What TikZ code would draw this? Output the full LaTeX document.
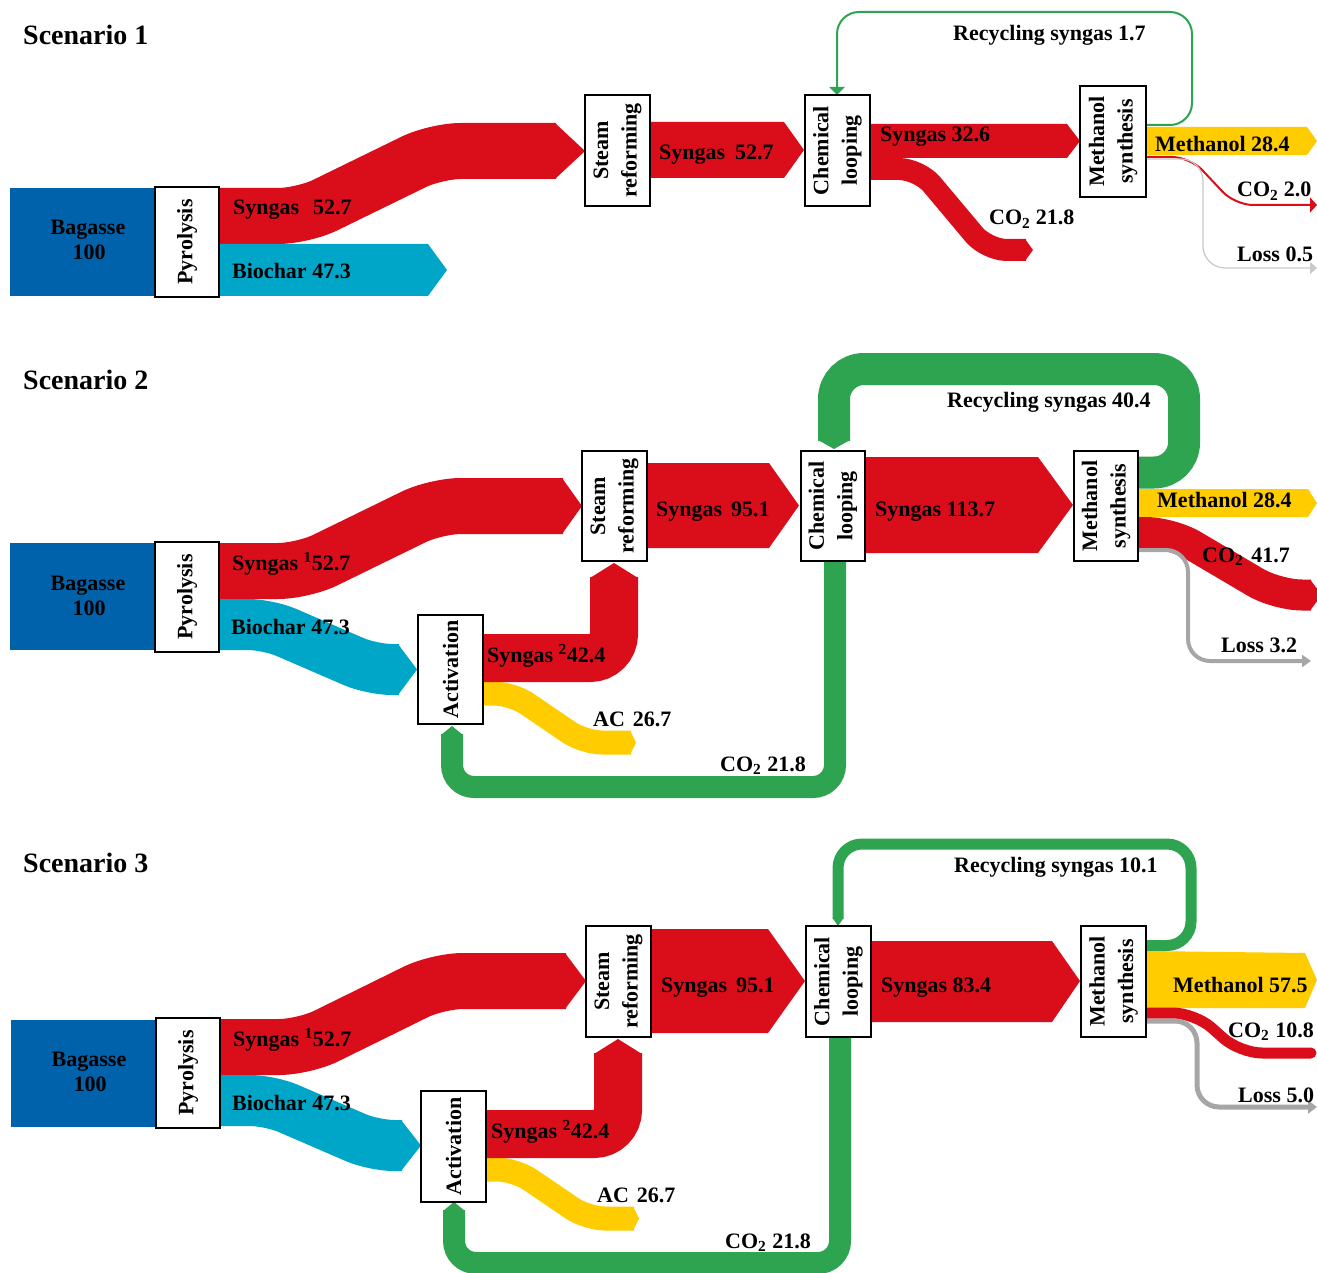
\documentclass[tikz,border=0pt]{standalone}
\usepackage{fontspec}
\setmainfont{Liberation Serif}
\usetikzlibrary{arrows.meta}
\definecolor{cBlue}{RGB}{0,98,170}
\definecolor{cRed}{RGB}{218,14,26}
\definecolor{cCyan}{RGB}{0,166,200}
\definecolor{cYel}{RGB}{255,204,0}
\definecolor{cGreen}{RGB}{46,164,80}
\definecolor{cGray}{RGB}{166,166,166}
\definecolor{cLGray}{RGB}{200,200,200}
\newcommand\lblfont{\fontsize{22}{27}\selectfont\bfseries}
\newcommand\boxfont{\fontsize{22}{28.5}\selectfont\bfseries}
\newcommand\ttlfont{\fontsize{28}{32}\selectfont\bfseries}
\begin{document}
\begin{tikzpicture}[x=1pt,y=-1pt,
  box/.style={draw=black, line width=2pt, fill=white, rotate=90, inner sep=0pt, align=center, font=\boxfont, minimum width=110pt, minimum height=65pt},
  lab/.style={anchor=base west, inner sep=0pt, font=\lblfont},
  ctr/.style={anchor=base, inner sep=0pt, font=\lblfont},
  ttl/.style={anchor=base west, inner sep=0pt, font=\ttlfont},
  band/.style={line cap=butt, rounded corners=#1},
  thin/.style={rounded corners=#1, line cap=butt},
]
\useasboundingbox (0,0) rectangle (1317,1273);
\fill[white] (0,0) rectangle (1317,1273);

% ================= Scenario 1 =================
\node[ttl] (t1) at (23,45) {Scenario 1};
\fill[cBlue] (10,188) rectangle (156,296);
\draw[cRed, line width=56pt, band=25pt] (219,216) -- (303,216) -- (436,151) -- (556,151);
\fill[cRed] (555,123) -- (585,151) -- (555,179) -- cycle;
\fill[cCyan] (219,244) -- (428,244) -- (447,270) -- (428,296) -- (219,296) -- cycle;
\fill[cRed] (650,122) -- (784,122) -- (804,150) -- (784,178) -- (650,178) -- cycle;
\fill[cRed] (870,124) -- (1067,124) -- (1080,141) -- (1067,158) -- (870,158) -- cycle;
\draw[cRed, line width=22pt, band=20pt] (870,169) -- (919,169) -- (987,250) -- (1026,250);
\fill[cRed] (1025,239) -- (1033,250) -- (1025,261) -- cycle;
\fill[cYel] (1146,127) -- (1307,127) -- (1317,141) -- (1307,155) -- (1146,155) -- cycle;
\draw[cRed, line width=2pt, thin=18pt, -{Triangle[length=7pt,width=15pt]}] (1146,157) -- (1190,157) -- (1235,205) -- (1317,205);
\draw[cLGray, line width=1.2pt, thin=22pt, -{Triangle[length=7pt,width=12pt]}] (1146,159) -- (1203,159) -- (1203,268) -- (1317,268);
\draw[cGreen, line width=2pt, thin=22pt, -{Triangle[length=8pt,width=15pt]}] (1146,125) -- (1192,125) -- (1192,12) -- (837,12) -- (837,95);

\node[box, minimum height=64pt] (pyr1) at (187,242) {Pyrolysis};
\node[box, minimum width=111pt] (stm1) at (617.5,150.5) {Steam\\reforming};
\node[box, minimum width=111pt] (chm1) at (837.5,150.5) {Chemical\\looping};
\node[box, minimum width=111pt, minimum height=66pt] (met1) at (1113,141.5) {Methanol\\synthesis};

\node[ctr] (bag1a) at (88,235) {Bagasse};
\node[ctr] (bag1b) at (89,260) {100};
\node[lab] (l1a) at (233,215) {Syngas\hspace{14pt}52.7};
\node[lab] (l1b) at (232,279) {Biochar 47.3};
\node[lab] (l1c) at (659,160) {Syngas\hspace{10pt}52.7};
\node[lab] (l1d) at (880,142) {Syngas 32.6};
\node[lab] (l1e) at (989,225) {CO\textsubscript{2} 21.8};
\node[lab] (l1f) at (953,41) {Recycling syngas 1.7};
\node[lab] (l1g) at (1155,152) {Methanol 28.4};
\node[lab] (l1h) at (1237,197) {CO\textsubscript{2} 2.0};
\node[lab] (l1i) at (1237,262) {Loss 0.5};

% ================= Scenario 2 =================
\node[ttl] (t2) at (23,389) {Scenario 2};
\fill[cBlue] (10,543) rectangle (156,650);
\draw[cRed, line width=56pt, band=25pt] (219,571) -- (303,571) -- (436,506) -- (563,506);
\fill[cRed] (562,478) -- (582,506) -- (562,534) -- cycle;
\draw[cCyan, line width=51pt, band=20pt] (219,624.5) -- (268,624.5) -- (372,669.5) -- (399,669.5);
\fill[cCyan] (398,644) -- (417,669.5) -- (398,695) -- cycle;
\draw[cYel, line width=24pt, band=18pt] (483,693.5) -- (512,693.5) -- (584,742.5) -- (631,742.5);
\fill[cYel] (630,730.5) -- (636,742.5) -- (630,754.5) -- cycle;
\draw[cRed, line width=48pt, band=24pt] (483,658) -- (614,658) -- (614,577);
\fill[cRed] (590,578) -- (614,563) -- (638,578) -- cycle;
\draw[cGreen, line width=22pt, band=22pt] (835,561) -- (835,787) -- (452,787) -- (452,734);
\fill[cGreen] (441,735) -- (452,726) -- (463,735) -- cycle;
\fill[cRed] (647,463) -- (769,463) -- (799,505.5) -- (769,548) -- (647,548) -- cycle;
\draw[cGreen, line width=32pt, band=30pt] (1138,472.5) -- (1184,472.5) -- (1184,369) -- (834,369) -- (834,441);
\fill[cGreen] (818,440) -- (834,449) -- (850,440) -- cycle;
\fill[cRed] (865,457) -- (1038,457) -- (1073,505) -- (1038,553) -- (865,553) -- cycle;
\fill[cYel] (1138,489) -- (1308,489) -- (1317,503) -- (1308,517) -- (1138,517) -- cycle;
\draw[cRed, line width=31pt, band=25pt] (1138,532.5) -- (1171,532.5) -- (1277,595) -- (1311,595);
\fill[cRed] (1310,579.5) -- (1322,595) -- (1310,610.5) -- cycle;
\draw[cGray, line width=4pt, thin=22pt, -{Triangle[length=9pt,width=12pt]}] (1138,550) -- (1188,550) -- (1188,661) -- (1311,661);

\node[box, minimum height=64pt] (pyr2) at (187,597) {Pyrolysis};
\node[box, minimum width=109pt] (act2) at (450.5,669.5) {Activation};
\node[box] (stm2) at (614.5,506) {Steam\\reforming};
\node[box, minimum height=64pt] (chm2) at (833,506) {Chemical\\looping};
\node[box, minimum height=64pt] (met2) at (1106,506) {Methanol\\synthesis};

\node[ctr] (bag2a) at (88,590) {Bagasse};
\node[ctr] (bag2b) at (89,615) {100};
\node[lab] (l2a) at (232,570) {Syngas \textsuperscript{1}52.7};
\node[lab] (l2b) at (231,634) {Biochar 47.3};
\node[lab] (l2c) at (487,662) {Syngas \textsuperscript{2}42.4};
\node[lab] (l2d) at (593,726) {AC\hspace{8pt}26.7};
\node[lab] (l2e) at (720,771) {CO\textsubscript{2}\hspace{6pt}21.8};
\node[lab] (l2f) at (656,516) {Syngas\hspace{9pt}95.1};
\node[lab] (l2g) at (875,516) {Syngas 113.7};
\node[lab] (l2h) at (947,407) {Recycling syngas 40.4};
\node[lab] (l2i) at (1157,507) {Methanol 28.4};
\node[lab] (l2j) at (1202,562) {CO\textsubscript{2}\hspace{8pt}41.7};
\node[lab] (l2k) at (1221,652) {Loss 3.2};

% ================= Scenario 3 =================
\node[ttl] (t3) at (23,872) {Scenario 3};
\fill[cBlue] (11,1020) rectangle (157,1127);
\draw[cRed, line width=56pt, band=25pt] (220,1047) -- (304,1047) -- (438,981) -- (566,981);
\fill[cRed] (565,953) -- (586,981) -- (565,1009) -- cycle;
\draw[cCyan, line width=51pt, band=20pt] (220,1100.5) -- (270,1100.5) -- (374,1145.5) -- (402,1145.5);
\fill[cCyan] (401,1120) -- (421,1145.5) -- (401,1171) -- cycle;
\draw[cYel, line width=24pt, band=18pt] (486,1169.5) -- (515,1169.5) -- (587,1218.5) -- (634,1218.5);
\fill[cYel] (633,1206.5) -- (639,1218.5) -- (633,1230.5) -- cycle;
\draw[cRed, line width=48pt, band=24pt] (486,1134) -- (618,1134) -- (618,1053);
\fill[cRed] (594,1054) -- (618,1039) -- (642,1054) -- cycle;
\draw[cGreen, line width=22pt, band=22pt] (840,1037) -- (840,1263) -- (454,1263) -- (454,1210);
\fill[cGreen] (443,1211) -- (454,1202) -- (465,1211) -- cycle;
\fill[cRed] (651,929) -- (768,929) -- (805,981) -- (768,1033) -- (651,1033) -- cycle;
\draw[cGreen, line width=11pt, band=24pt] (1146,945.5) -- (1191,945.5) -- (1191,844) -- (838,844) -- (838,919);
\fill[cGreen] (832.5,918) -- (838,926) -- (843.5,918) -- cycle;
\fill[cRed] (871,941) -- (1052,941) -- (1080,981) -- (1052,1022) -- (871,1022) -- cycle;
\fill[cYel] (1146,951) -- (1305,953) -- (1317,980) -- (1305,1008) -- (1146,1008) -- cycle;
\draw[cRed, line width=11pt, line cap=round, rounded corners=22pt] (1146,1013) -- (1195,1013) -- (1240,1053) -- (1311,1053);
\draw[cGray, line width=5pt, thin=22pt, -{Triangle[length=9pt,width=13pt]}] (1146,1021) -- (1197,1021) -- (1197,1107) -- (1317,1107);

\node[box, minimum height=64pt] (pyr3) at (188,1073) {Pyrolysis};
\node[box, minimum width=111pt] (act3) at (453.5,1146.5) {Activation};
\node[box, minimum width=111pt] (stm3) at (618.5,981.5) {Steam\\reforming};
\node[box, minimum width=111pt] (chm3) at (838.5,981.5) {Chemical\\looping};
\node[box, minimum width=111pt] (met3) at (1113.5,981.5) {Methanol\\synthesis};

\node[ctr] (bag3a) at (89,1066) {Bagasse};
\node[ctr] (bag3b) at (90,1091) {100};
\node[lab] (l3a) at (233,1046) {Syngas \textsuperscript{1}52.7};
\node[lab] (l3b) at (232,1110) {Biochar 47.3};
\node[lab] (l3c) at (491,1138) {Syngas \textsuperscript{2}42.4};
\node[lab] (l3d) at (597,1202) {AC\hspace{8pt}26.7};
\node[lab] (l3e) at (725,1248) {CO\textsubscript{2}\hspace{6pt}21.8};
\node[lab] (l3f) at (661,992) {Syngas\hspace{9pt}95.1};
\node[lab] (l3g) at (881,992) {Syngas 83.4};
\node[lab] (l3h) at (954,872) {Recycling syngas 10.1};
\node[lab] (l3i) at (1173,992) {Methanol 57.5};
\node[lab] (l3j) at (1228,1037) {CO\textsubscript{2}\hspace{6pt}10.8};
\node[lab] (l3k) at (1238,1102) {Loss 5.0};
\end{tikzpicture}
\end{document}
